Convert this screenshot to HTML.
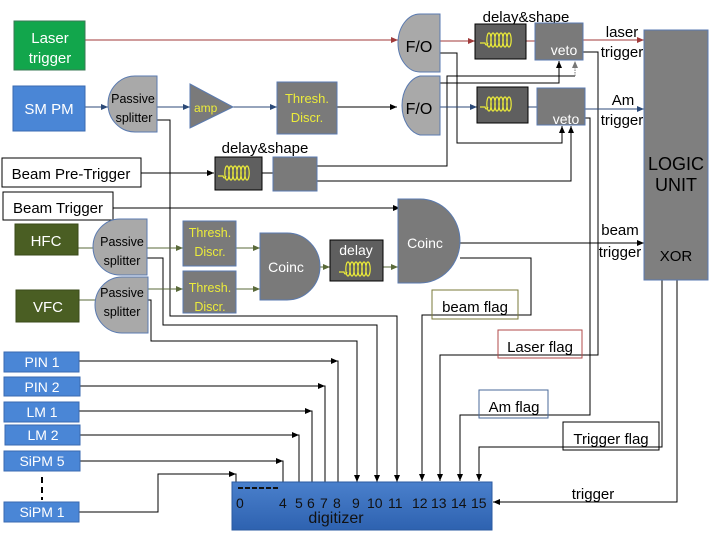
<!DOCTYPE html>
<html><head><meta charset="utf-8"><style>
html,body{margin:0;padding:0;background:#fff;width:713px;height:536px;overflow:hidden}
text{font-family:"Liberation Sans",sans-serif}
</style></head><body>
<svg width="713" height="536" viewBox="0 0 713 536" xmlns="http://www.w3.org/2000/svg">
<defs>
<marker id="ab" markerWidth="8" markerHeight="8" refX="7" refY="4" orient="auto" markerUnits="userSpaceOnUse"><path d="M0,1 L7,4 L0,7 z" fill="#000"/></marker>
<marker id="ar" markerWidth="8" markerHeight="8" refX="7" refY="4" orient="auto" markerUnits="userSpaceOnUse"><path d="M0,1 L7,4 L0,7 z" fill="#a03a3a"/></marker>
<marker id="au" markerWidth="8" markerHeight="8" refX="7" refY="4" orient="auto" markerUnits="userSpaceOnUse"><path d="M0,1 L7,4 L0,7 z" fill="#2c4a78"/></marker>
<marker id="ag" markerWidth="8" markerHeight="8" refX="7" refY="4" orient="auto" markerUnits="userSpaceOnUse"><path d="M0,1 L7,4 L0,7 z" fill="#5a6a3a"/></marker>
<marker id="ad" markerWidth="8" markerHeight="8" refX="7" refY="4" orient="auto" markerUnits="userSpaceOnUse"><path d="M0,1 L7,4 L0,7 z" fill="#777"/></marker>
<linearGradient id="dg" x1="0" y1="0" x2="0" y2="1"><stop offset="0" stop-color="#4a80cc"/><stop offset="1" stop-color="#2e62b0"/></linearGradient>
<g id="coil"><path d="M2,13 L7,13 Q8,17 10,13" fill="none" stroke="#ecec3a" stroke-width="1.2"/>
<g fill="none" stroke="#ecec3a" stroke-width="1.2"><ellipse cx="11" cy="10" rx="2.2" ry="7"/><ellipse cx="15" cy="10" rx="2.2" ry="7"/><ellipse cx="19" cy="10" rx="2.2" ry="7"/><ellipse cx="23" cy="10" rx="2.2" ry="7"/><ellipse cx="27" cy="10" rx="2.2" ry="7"/><ellipse cx="31" cy="10" rx="2.2" ry="7"/></g></g>
</defs>

<g fill="none" stroke-width="1">
<line x1="85" y1="40" x2="398" y2="40" stroke="#a03a3a" marker-end="url(#ar)"/>
<line x1="440" y1="41" x2="475" y2="41" stroke="#a03a3a" marker-end="url(#ar)"/>
<line x1="526" y1="41" x2="535" y2="41" stroke="#a03a3a"/>
<line x1="583" y1="40" x2="644" y2="40" stroke="#a03a3a" marker-end="url(#ar)"/>
<polyline points="583,52 598,52 598,355 440,355 440,481" stroke="#000" marker-end="url(#ab)"/>
<polyline points="440,53 457,53 457,143 562,143 562,126" stroke="#000" marker-end="url(#ab)"/>
<polyline points="437,83 559,83 559,61" stroke="#000" marker-end="url(#ab)"/>
<polyline points="317,166 447,166 447,76 575,76" stroke="#000"/>
<line x1="575" y1="76" x2="575" y2="61" stroke="#777" stroke-dasharray="1.5,1" marker-end="url(#ad)"/>
<polyline points="317,181 571,181 571,126" stroke="#000" marker-end="url(#ab)"/>
<line x1="77" y1="107" x2="108" y2="107" stroke="#2c4a78" marker-end="url(#au)"/>
<line x1="148" y1="107" x2="190" y2="107" stroke="#2c4a78" marker-end="url(#au)"/>
<line x1="233" y1="107" x2="277" y2="107" stroke="#2c4a78" marker-end="url(#au)"/>
<line x1="337" y1="107" x2="397" y2="107" stroke="#000" marker-end="url(#ab)"/>
<line x1="440" y1="107" x2="477" y2="107" stroke="#2c4a78" marker-end="url(#au)"/>
<line x1="528" y1="107" x2="537" y2="107" stroke="#2c4a78"/>
<line x1="585" y1="109" x2="644" y2="109" stroke="#2c4a78" marker-end="url(#au)"/>
<polyline points="585,118 590,118 590,415 460,415 460,481" stroke="#000" marker-end="url(#ab)"/>
<polyline points="157,120 170,120 170,316 397,316 397,482" stroke="#000" marker-end="url(#ab)"/>
<line x1="141" y1="173" x2="214" y2="173" stroke="#000" marker-end="url(#ab)"/>
<line x1="262" y1="173" x2="273" y2="173" stroke="#000"/>
<line x1="113" y1="208" x2="400" y2="208" stroke="#000" marker-end="url(#ab)"/>
<line x1="78" y1="248" x2="95" y2="248" stroke="#5a6a3a"/>
<line x1="147" y1="248" x2="183" y2="248" stroke="#5a6a3a" marker-end="url(#ag)"/>
<line x1="226" y1="248" x2="260" y2="248" stroke="#5a6a3a" marker-end="url(#ag)"/>
<polyline points="147,258 163,258 163,325 377,325 377,482" stroke="#000" marker-end="url(#ab)"/>
<line x1="79" y1="300" x2="97" y2="300" stroke="#5a6a3a"/>
<line x1="147" y1="289" x2="183" y2="289" stroke="#5a6a3a" marker-end="url(#ag)"/>
<line x1="226" y1="289" x2="260" y2="289" stroke="#5a6a3a" marker-end="url(#ag)"/>
<polyline points="148,300 151,300 151,341 357,341 357,482" stroke="#000" marker-end="url(#ab)"/>
<line x1="313" y1="267" x2="330" y2="267" stroke="#5a6a3a" marker-end="url(#ag)"/>
<line x1="383" y1="267" x2="398" y2="267" stroke="#5a6a3a" marker-end="url(#ag)"/>
<line x1="452" y1="243" x2="644" y2="243" stroke="#000" marker-end="url(#ab)"/>
<polyline points="460,258 531,258 531,315 422,315 422,481" stroke="#000" marker-end="url(#ab)"/>
<polyline points="662,280 662,447 479,447 479,481" stroke="#000" marker-end="url(#ab)"/>
<polyline points="677,280 677,502 493,502" stroke="#000" marker-end="url(#ab)"/>
<polyline points="79,361 338,361 338,482" stroke="#000"/><line x1="79" y1="361" x2="338" y2="361" stroke="#000" marker-end="url(#ab)"/>
<polyline points="80,386 325,386 325,482" stroke="#000"/><line x1="80" y1="386" x2="325" y2="386" stroke="#000" marker-end="url(#ab)"/>
<polyline points="79,411 312,411 312,482" stroke="#000"/><line x1="79" y1="411" x2="312" y2="411" stroke="#000" marker-end="url(#ab)"/>
<polyline points="80,435 299,435 299,482" stroke="#000"/><line x1="80" y1="435" x2="299" y2="435" stroke="#000" marker-end="url(#ab)"/>
<polyline points="80,461 283,461 283,482" stroke="#000"/><line x1="80" y1="461" x2="283" y2="461" stroke="#000" marker-end="url(#ab)"/>
<polyline points="79,512 158,512 158,474 236,474 236,482" stroke="#000"/><line x1="158" y1="474" x2="236" y2="474" stroke="#000" marker-end="url(#ab)"/>
<line x1="42" y1="477" x2="42" y2="500" stroke="#000" stroke-width="2" stroke-dasharray="6,4"/>
</g>

<rect x="14" y="21" width="71" height="49" fill="#12a64c" stroke="#3a7a55"/>
<text x="50" y="43" font-size="15" fill="#fff" text-anchor="middle">Laser</text>
<text x="50" y="63" font-size="15" fill="#fff" text-anchor="middle">trigger</text>
<rect x="13" y="86" width="72" height="45" fill="#4a86d6" stroke="#3a6ab0"/>
<text x="49" y="114" font-size="15" fill="#fff" text-anchor="middle">SM PM</text>

<path d="M157,76 L135,76 A27,28 0 0 0 135,132 L157,132 Z" fill="#a9a9a9" stroke="#5a7ab0"/>
<text x="133" y="103" font-size="12.5" fill="#000" text-anchor="middle">Passive</text>
<text x="134" y="122" font-size="12.5" fill="#000" text-anchor="middle">splitter</text>
<path d="M190,84 L233,107 L190,128 Z" fill="#7a7a7a" stroke="#5a7ab0"/>
<text x="194" y="112" font-size="12" fill="#ecec3a">amp</text>
<rect x="277" y="82" width="60" height="52" fill="#7a7a7a" stroke="#5a7ab0"/>
<text x="307" y="103" font-size="13" fill="#ecec3a" text-anchor="middle">Thresh.</text>
<text x="307" y="122" font-size="13" fill="#ecec3a" text-anchor="middle">Discr.</text>

<rect x="2" y="158" width="139" height="29" fill="#fff" stroke="#000"/>
<text x="71" y="179" font-size="15" text-anchor="middle">Beam Pre-Trigger</text>
<text x="265" y="153" font-size="15" text-anchor="middle">delay&amp;shape</text>
<rect x="215" y="157" width="47" height="33" fill="#5f5f5f" stroke="#000"/>
<use href="#coil" x="216" y="163"/>
<rect x="273" y="157" width="44" height="34" fill="#7a7a7a" stroke="#5a7ab0"/>
<rect x="3" y="192" width="110" height="28" fill="#fff" stroke="#000"/>
<text x="58" y="213" font-size="15" text-anchor="middle">Beam Trigger</text>

<rect x="15" y="224" width="63" height="31" fill="#4a5e23" stroke="#3a4a1a"/>
<text x="46" y="246" font-size="15" fill="#fff" text-anchor="middle">HFC</text>
<path d="M147,219 L120,219 A27,28 0 0 0 120,275 L147,275 Z" fill="#a9a9a9" stroke="#5a7ab0"/>
<text x="122" y="246" font-size="12.5" text-anchor="middle">Passive</text>
<text x="122" y="265" font-size="12.5" text-anchor="middle">splitter</text>
<rect x="16" y="290" width="63" height="32" fill="#4a5e23" stroke="#3a4a1a"/>
<text x="48" y="312" font-size="15" fill="#fff" text-anchor="middle">VFC</text>
<path d="M148,277 L122,277 A27,28 0 0 0 122,333 L148,333 Z" fill="#a9a9a9" stroke="#5a7ab0"/>
<text x="122" y="297" font-size="12.5" text-anchor="middle">Passive</text>
<text x="122" y="316" font-size="12.5" text-anchor="middle">splitter</text>

<rect x="183" y="221" width="53" height="45" fill="#7a7a7a" stroke="#5a7ab0"/>
<text x="210" y="237" font-size="12.5" fill="#ecec3a" text-anchor="middle">Thresh.</text>
<text x="210" y="256" font-size="12.5" fill="#ecec3a" text-anchor="middle">Discr.</text>
<rect x="183" y="271" width="53" height="42" fill="#7a7a7a" stroke="#5a7ab0"/>
<text x="210" y="292" font-size="12.5" fill="#ecec3a" text-anchor="middle">Thresh.</text>
<text x="210" y="311" font-size="12.5" fill="#ecec3a" text-anchor="middle">Discr.</text>
<path d="M260,233 L287,233 A33,33.5 0 0 1 287,300 L260,300 Z" fill="#7a7a7a" stroke="#5a7ab0"/>
<text x="286" y="272" font-size="14" fill="#fff" text-anchor="middle">Coinc</text>
<rect x="330" y="240" width="53" height="41" fill="#5f5f5f" stroke="#000"/>
<text x="356" y="255" font-size="14" fill="#fff" text-anchor="middle">delay</text>
<use href="#coil" x="337" y="259"/>
<path d="M398,199 L420,199 A40,42 0 0 1 420,283 L398,283 Z" fill="#7a7a7a" stroke="#5a7ab0"/>
<text x="425" y="248" font-size="14" fill="#fff" text-anchor="middle">Coinc</text>

<path d="M440,14 L420,14 A22,29 0 0 0 420,72 L440,72 Z" fill="#a9a9a9" stroke="#5a7ab0"/>
<text x="419" y="52" font-size="16" text-anchor="middle">F/O</text>
<path d="M440,76 L420,76 A22,30 0 0 0 420,135 L440,135 Z" fill="#a9a9a9" stroke="#5a7ab0"/>
<text x="419" y="114" font-size="16" text-anchor="middle">F/O</text>
<text x="526" y="22" font-size="15" text-anchor="middle">delay&amp;shape</text>
<rect x="475" y="24" width="51" height="35" fill="#5f5f5f" stroke="#000"/>
<use href="#coil" x="478" y="30"/>
<rect x="535" y="23" width="48" height="37" fill="#7a7a7a" stroke="#5a7ab0"/>
<text x="564" y="55" font-size="14" fill="#fff" text-anchor="middle">veto</text>
<rect x="477" y="87" width="51" height="36" fill="#5f5f5f" stroke="#000"/>
<use href="#coil" x="478" y="94"/>
<rect x="537" y="88" width="48" height="37" fill="#7a7a7a" stroke="#5a7ab0"/>
<text x="566" y="124" font-size="14" fill="#fff" text-anchor="middle">veto</text>

<text x="622" y="37" font-size="15" text-anchor="middle">laser</text>
<text x="622" y="57" font-size="15" text-anchor="middle">trigger</text>
<text x="623" y="105" font-size="15" text-anchor="middle">Am</text>
<text x="622" y="125" font-size="15" text-anchor="middle">trigger</text>
<text x="620" y="235" font-size="15" text-anchor="middle">beam</text>
<text x="620" y="257" font-size="15" text-anchor="middle">trigger</text>

<rect x="644" y="30" width="64" height="250" fill="#7f7f7f" stroke="#5a7ab0"/>
<text x="676" y="170" font-size="18" text-anchor="middle">LOGIC</text>
<text x="676" y="191" font-size="18" text-anchor="middle">UNIT</text>
<text x="676" y="261" font-size="15" text-anchor="middle">XOR</text>

<rect x="432" y="290" width="86" height="29" fill="none" stroke="#7a7a3a"/>
<text x="475" y="312" font-size="15" text-anchor="middle">beam flag</text>
<rect x="498" y="330" width="84" height="28" fill="none" stroke="#b04a4a"/>
<text x="540" y="352" font-size="15" text-anchor="middle">Laser flag</text>
<rect x="479" y="390" width="69" height="28" fill="none" stroke="#4a6a9a"/>
<text x="514" y="412" font-size="15" text-anchor="middle">Am flag</text>
<rect x="563" y="422" width="96" height="28" fill="none" stroke="#000"/>
<text x="611" y="444" font-size="15" text-anchor="middle">Trigger flag</text>
<text x="593" y="499" font-size="15" text-anchor="middle">trigger</text>

<g font-size="14" fill="#fff">
<rect x="4" y="352" width="75" height="20" fill="#4a86d6" stroke="#3a6ab0"/><text x="42" y="367" text-anchor="middle">PIN 1</text>
<rect x="4" y="377" width="76" height="19" fill="#4a86d6" stroke="#3a6ab0"/><text x="42" y="392" text-anchor="middle">PIN 2</text>
<rect x="4" y="402" width="75" height="20" fill="#4a86d6" stroke="#3a6ab0"/><text x="42" y="417" text-anchor="middle">LM 1</text>
<rect x="5" y="425" width="75" height="20" fill="#4a86d6" stroke="#3a6ab0"/><text x="43" y="440" text-anchor="middle">LM 2</text>
<rect x="4" y="451" width="76" height="20" fill="#4a86d6" stroke="#3a6ab0"/><text x="42" y="466" text-anchor="middle">SiPM 5</text>
<rect x="4" y="502" width="75" height="20" fill="#4a86d6" stroke="#3a6ab0"/><text x="42" y="517" text-anchor="middle">SiPM 1</text>
</g>

<rect x="232" y="482" width="260" height="48" fill="url(#dg)" stroke="#2a5aa0"/>
<line x1="238" y1="488" x2="280" y2="488" stroke="#111" stroke-width="2" stroke-dasharray="5,2"/>
<g font-size="14" fill="#111">
<text x="236" y="508">0</text><text x="279" y="508">4</text><text x="295" y="508">5</text><text x="307" y="508">6</text><text x="320" y="508">7</text><text x="333" y="508">8</text><text x="352" y="508">9</text><text x="367" y="508">10</text><text x="388" y="508">11</text><text x="412" y="508">12</text><text x="431" y="508">13</text><text x="451" y="508">14</text><text x="471" y="508">15</text>
</g>
<text x="336" y="523" font-size="16" fill="#111" text-anchor="middle">digitizer</text>
</svg>
</body></html>
